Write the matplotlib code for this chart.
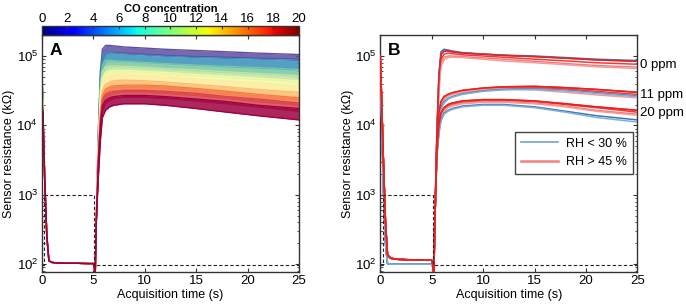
import numpy as np
import matplotlib
matplotlib.use("Agg")
import matplotlib.pyplot as plt
from matplotlib.colors import Normalize
from matplotlib.cm import ScalarMappable
import matplotlib.transforms as mtransforms

plt.rcParams['font.family'] = ['Liberation Sans', 'DejaVu Sans']
plt.rcParams['mathtext.fontset'] = 'custom'
plt.rcParams['mathtext.rm'] = 'Liberation Sans'
plt.rcParams['mathtext.it'] = 'Liberation Sans:italic'
plt.rcParams['mathtext.bf'] = 'Liberation Sans:bold'

# ---------------- data ----------------
# shared heater-low segment (s, kOhm)
t_low = [0.12, 0.3, 0.5, 0.7, 1.0, 1.5, 2.5, 3.5, 4.5, 5.0, 5.1, 5.2, 5.3]
r_low = [1.5e4, 1.5e3, 250, 112, 106, 104, 103, 103, 102, 102, 92, 70, 400]
# heater-high segment time grid
t_hi = [5.5, 5.7, 5.9, 6.2, 6.6, 7, 8, 10, 12, 15, 18, 21, 25]

# Panel A: CO concentration levels (ppm)
co_levels = [0, 2.22, 4.44, 6.67, 8.89, 11.11, 13.33, 15.56, 17.78, 20]
start_vals = [1.0e5, 8.5e4, 6.5e4, 5.2e4, 4.4e4, 3.7e4, 3.1e4, 2.7e4, 2.3e4, 1.9e4]
a_upper = [
    [8e3, 6e4, 1.25e5, 1.42e5, 1.42e5, 1.4e5, 1.35e5, 1.3e5, 1.25e5, 1.2e5, 1.15e5, 1.1e5, 1.05e5],
    [7e3, 5e4, 1.0e5, 1.12e5, 1.12e5, 1.1e5, 1.07e5, 1.03e5, 9.9e4, 9.5e4, 9.2e4, 9.0e4, 8.6e4],
    [6e3, 4e4, 7.5e4, 8.6e4, 8.7e4, 8.6e4, 8.4e4, 8.1e4, 7.8e4, 7.4e4, 7.1e4, 6.8e4, 6.4e4],
    [5.5e3, 3.2e4, 6.0e4, 7.0e4, 7.2e4, 7.2e4, 7.1e4, 6.9e4, 6.6e4, 6.3e4, 5.9e4, 5.6e4, 5.2e4],
    [5e3, 2.6e4, 4.8e4, 5.8e4, 6.1e4, 6.2e4, 6.2e4, 6.0e4, 5.8e4, 5.4e4, 5.1e4, 4.8e4, 4.4e4],
    [4.5e3, 2.1e4, 4.0e4, 4.9e4, 5.2e4, 5.4e4, 5.4e4, 5.3e4, 5.1e4, 4.7e4, 4.4e4, 4.1e4, 3.7e4],
    [4e3, 1.7e4, 3.2e4, 3.9e4, 4.2e4, 4.4e4, 4.5e4, 4.4e4, 4.2e4, 3.9e4, 3.6e4, 3.3e4, 3.0e4],
    [3.6e3, 1.4e4, 2.7e4, 3.3e4, 3.6e4, 3.7e4, 3.8e4, 3.8e4, 3.7e4, 3.4e4, 3.1e4, 2.8e4, 2.5e4],
    [3.2e3, 1.2e4, 2.3e4, 2.8e4, 3.0e4, 3.1e4, 3.2e4, 3.2e4, 3.1e4, 2.9e4, 2.6e4, 2.4e4, 2.1e4],
    [2.8e3, 1.0e4, 1.9e4, 2.3e4, 2.5e4, 2.6e4, 2.7e4, 2.7e4, 2.6e4, 2.4e4, 2.2e4, 1.95e4, 1.75e4],
]
a_lower = [
    [5e3, 3.5e4, 8.5e4, 1.08e5, 1.12e5, 1.12e5, 1.1e5, 1.06e5, 1.02e5, 9.8e4, 9.6e4, 9.3e4, 9.0e4],
    [4.5e3, 2.8e4, 6.5e4, 8.2e4, 8.6e4, 8.6e4, 8.4e4, 8.1e4, 7.8e4, 7.4e4, 7.0e4, 6.7e4, 6.3e4],
    [4e3, 2.2e4, 5.0e4, 6.6e4, 7.0e4, 7.1e4, 7.0e4, 6.8e4, 6.5e4, 6.1e4, 5.8e4, 5.5e4, 5.1e4],
    [3.5e3, 1.8e4, 4.0e4, 5.3e4, 5.8e4, 5.9e4, 5.9e4, 5.8e4, 5.5e4, 5.2e4, 4.9e4, 4.6e4, 4.2e4],
    [3.2e3, 1.5e4, 3.3e4, 4.4e4, 4.8e4, 5.0e4, 5.1e4, 5.0e4, 4.8e4, 4.4e4, 4.1e4, 3.8e4, 3.5e4],
    [2.9e3, 1.2e4, 2.7e4, 3.5e4, 3.9e4, 4.1e4, 4.3e4, 4.3e4, 4.1e4, 3.8e4, 3.5e4, 3.2e4, 2.9e4],
    [2.6e3, 1.0e4, 2.2e4, 2.9e4, 3.2e4, 3.4e4, 3.5e4, 3.5e4, 3.4e4, 3.1e4, 2.8e4, 2.55e4, 2.3e4],
    [2.3e3, 8.5e3, 1.9e4, 2.5e4, 2.7e4, 2.9e4, 3.0e4, 3.0e4, 2.9e4, 2.7e4, 2.45e4, 2.2e4, 1.95e4],
    [2.0e3, 7.5e3, 1.6e4, 2.1e4, 2.3e4, 2.45e4, 2.55e4, 2.55e4, 2.45e4, 2.25e4, 2.05e4, 1.85e4, 1.6e4],
    [1.7e3, 6e3, 1.3e4, 1.65e4, 1.85e4, 1.95e4, 2.05e4, 2.05e4, 1.95e4, 1.75e4, 1.55e4, 1.38e4, 1.2e4],
]

# Panel B: humidity comparison
b_groups = ['0 ppm', '11 ppm', '20 ppm']
b_group_label_vals = [7.4e4, 2.75e4, 1.5e4]
b_low_blue = [1.5e4, 1.2e3, 200, 102, 100, 100, 100, 100, 100, 100, 92, 72, 400]
b_low_red = [2.5e4, 3e3, 400, 135, 122, 118, 116, 115, 114, 114, 100, 60, 400]
b_blue = [
    [[8e3, 5.5e4, 1.15e5, 1.25e5, 1.22e5, 1.18e5, 1.12e5, 1.07e5, 1.03e5, 1.0e5, 9.5e4, 9.0e4, 8.6e4]],
    [[4e3, 1.2e4, 1.8e4, 2.2e4, 2.45e4, 2.6e4, 2.85e4, 3.15e4, 3.3e4, 3.35e4, 3.2e4, 2.95e4, 2.65e4],
     [4e3, 1.1e4, 1.7e4, 2.1e4, 2.4e4, 2.55e4, 2.8e4, 3.1e4, 3.25e4, 3.3e4, 3.15e4, 2.9e4, 2.6e4]],
    [[3.5e3, 8e3, 1.2e4, 1.5e4, 1.65e4, 1.75e4, 1.9e4, 2.0e4, 2.0e4, 1.85e4, 1.6e4, 1.38e4, 1.2e4],
     [3.5e3, 7.5e3, 1.15e4, 1.45e4, 1.6e4, 1.7e4, 1.85e4, 1.95e4, 1.95e4, 1.8e4, 1.55e4, 1.3e4, 1.12e4]],
]
b_red = [
    [[7e3, 5e4, 1.05e5, 1.18e5, 1.18e5, 1.15e5, 1.1e5, 1.06e5, 1.02e5, 9.8e4, 9.3e4, 8.8e4, 8.4e4],
     [6e3, 4e4, 9e4, 1.06e5, 1.1e5, 1.08e5, 1.04e5, 1.0e5, 9.6e4, 9.0e4, 8.5e4, 8.0e4, 7.6e4],
     [6e3, 3.5e4, 8e4, 9.6e4, 1.0e5, 1.0e5, 9.8e4, 9.4e4, 9.0e4, 8.4e4, 7.8e4, 7.3e4, 6.9e4],
     [5e3, 3e4, 7e4, 8.8e4, 9.5e4, 9.6e4, 9.5e4, 9.0e4, 8.5e4, 8.0e4, 7.5e4, 7.0e4, 6.6e4]],
    [[5e3, 1.5e4, 2.2e4, 2.6e4, 2.8e4, 2.95e4, 3.2e4, 3.45e4, 3.6e4, 3.65e4, 3.5e4, 3.3e4, 3.0e4],
     [4.5e3, 1.4e4, 2.1e4, 2.5e4, 2.75e4, 2.9e4, 3.1e4, 3.35e4, 3.5e4, 3.5e4, 3.35e4, 3.1e4, 2.8e4],
     [4.5e3, 1.3e4, 2.0e4, 2.4e4, 2.65e4, 2.8e4, 3.0e4, 3.25e4, 3.4e4, 3.4e4, 3.2e4, 2.95e4, 2.65e4],
     [4e3, 1.3e4, 2.0e4, 2.45e4, 2.7e4, 2.85e4, 3.05e4, 3.3e4, 3.35e4, 3.25e4, 3.0e4, 2.75e4, 2.5e4]],
    [[4e3, 1.0e4, 1.5e4, 1.8e4, 2.0e4, 2.1e4, 2.25e4, 2.35e4, 2.35e4, 2.25e4, 2.05e4, 1.85e4, 1.65e4],
     [4e3, 9.5e3, 1.4e4, 1.7e4, 1.9e4, 2.0e4, 2.15e4, 2.25e4, 2.3e4, 2.2e4, 2.0e4, 1.8e4, 1.55e4],
     [3.8e3, 9e3, 1.35e4, 1.65e4, 1.85e4, 1.95e4, 2.1e4, 2.2e4, 2.2e4, 2.1e4, 1.9e4, 1.65e4, 1.45e4],
     [3.8e3, 8.5e3, 1.3e4, 1.6e4, 1.8e4, 1.9e4, 2.05e4, 2.15e4, 2.15e4, 2.05e4, 1.85e4, 1.6e4, 1.4e4]],
]
b_start = [1.0e5, 9e4, 8e4]

# heater profile (dashed)
dash_t = [0, 0.22, 0.22, 5.1, 5.1, 25]
dash_r = [97, 97, 1000, 1000, 97, 97]

cbar_ticks = list(range(0, 21, 2))
x_ticks = [0, 5, 10, 15, 20, 25]
y_ticks = [1e2, 1e3, 1e4, 1e5]

# ---------------- figure ----------------
fig = plt.figure(figsize=(6.86, 3.08), dpi=100)
axA = fig.add_axes([0.0608, 0.118, 0.375, 0.768])
axB = fig.add_axes([0.5544, 0.118, 0.3746, 0.768])
cax = fig.add_axes([0.0608, 0.886, 0.375, 0.030])

spine_col = '#333333'
FS = 9

def style(ax):
    ax.set_yscale('log')
    ax.set_xlim(0, 25)
    ax.set_ylim(78, 2.0e5)
    ax.set_xticks(x_ticks)
    ax.set_yticks(y_ticks)
    ax.tick_params(which='both', direction='in', top=True, right=True,
                   labelsize=FS + 0.5, colors='black', pad=2.5)
    ax.tick_params(which='major', length=3, width=0.8, color=spine_col)
    ax.tick_params(which='minor', length=1.8, width=0.6, color=spine_col)
    for s in ax.spines.values():
        s.set_color(spine_col)
        s.set_linewidth(1.0)
    ax.set_xlabel('Acquisition time (s)', fontsize=FS, labelpad=1)
    ax.set_ylabel('Sensor resistance (kΩ)', fontsize=FS, labelpad=1)
    ax.plot(dash_t, dash_r, ls=(0, (3, 2)), color='#222222', lw=0.8, zorder=5)

style(axA)
style(axB)

# Panel A
cmap_lines = plt.get_cmap('Spectral_r')
norm = Normalize(0, 20)
for i, c in enumerate(co_levels):
    col = cmap_lines(norm(c))
    t_full = [0] + t_low + t_hi
    up = [start_vals[i]] + r_low + a_upper[i]
    lo = [start_vals[i]] + r_low + a_lower[i]
    axA.fill_between(t_full, lo, up, color=col, lw=0, alpha=0.85, zorder=2 + i * 0.01)
    axA.plot(t_full, up, color=col, lw=1.0, zorder=2 + i * 0.01)
    axA.plot(t_full, lo, color=col, lw=1.0, zorder=2 + i * 0.01)
axA.text(0.03, 0.965, 'A', transform=axA.transAxes, fontsize=12.5, fontweight='bold',
         va='top', ha='left')

# colorbar
sm = ScalarMappable(norm=norm, cmap='jet')
cb = fig.colorbar(sm, cax=cax, orientation='horizontal')
cax.xaxis.set_ticks_position('top')
cax.xaxis.set_label_position('top')
cb.set_ticks(cbar_ticks)
cax.tick_params(labelsize=FS + 0.5, direction='in', length=2, pad=0.5, color=spine_col)
cb.outline.set_edgecolor(spine_col)
cb.outline.set_linewidth(1.0)
cax.set_xlabel('CO concentration', fontsize=8, fontweight='bold', labelpad=0.5)

# Panel B
blue_cols = ['#3a78b5', '#7fb0d8']
red_cols = ['#e8231f', '#ee3b3b', '#f27c7c', '#f59a9a']
for g in range(3):
    for j, series in enumerate(b_red[g]):
        axB.plot([0] + t_low + t_hi, [b_start[g]] + b_low_red + series,
                 color=red_cols[j % len(red_cols)], lw=1.1, zorder=3)
    for j, series in enumerate(b_blue[g]):
        axB.plot([0] + t_low + t_hi, [b_start[g]] + b_low_blue + series,
                 color=blue_cols[j % len(blue_cols)], lw=1.1, zorder=3)
for g in range(3):
    axB.plot([0] + t_low + t_hi, [b_start[g]] + b_low_red + b_red[g][0],
             color=red_cols[0], lw=1.1, zorder=4)

axB.text(0.03, 0.965, 'B', transform=axB.transAxes, fontsize=12.5, fontweight='bold',
         va='top', ha='left')
trans = mtransforms.blended_transform_factory(axB.transAxes, axB.transData)
for lab, v in zip(b_groups, b_group_label_vals):
    axB.text(1.012, v, lab, transform=trans, fontsize=FS + 0.5, va='center', ha='left',
             clip_on=False)

h1, = axB.plot([], [], color='#6fa3d3', lw=1.2)
h2, = axB.plot([], [], color='#f08080', lw=1.8)
leg = axB.legend([h1, h2], ['RH < 30 %', 'RH > 45 %'], loc='upper right',
                 bbox_to_anchor=(0.983, 0.592), borderaxespad=0, fontsize=FS,
                 handlelength=3.0, fancybox=False, framealpha=1,
                 borderpad=0.5, labelspacing=0.5, handletextpad=0.6)
leg.get_frame().set_edgecolor('#444444')
leg.get_frame().set_linewidth(1.0)

fig.savefig('out.png', dpi=100)
